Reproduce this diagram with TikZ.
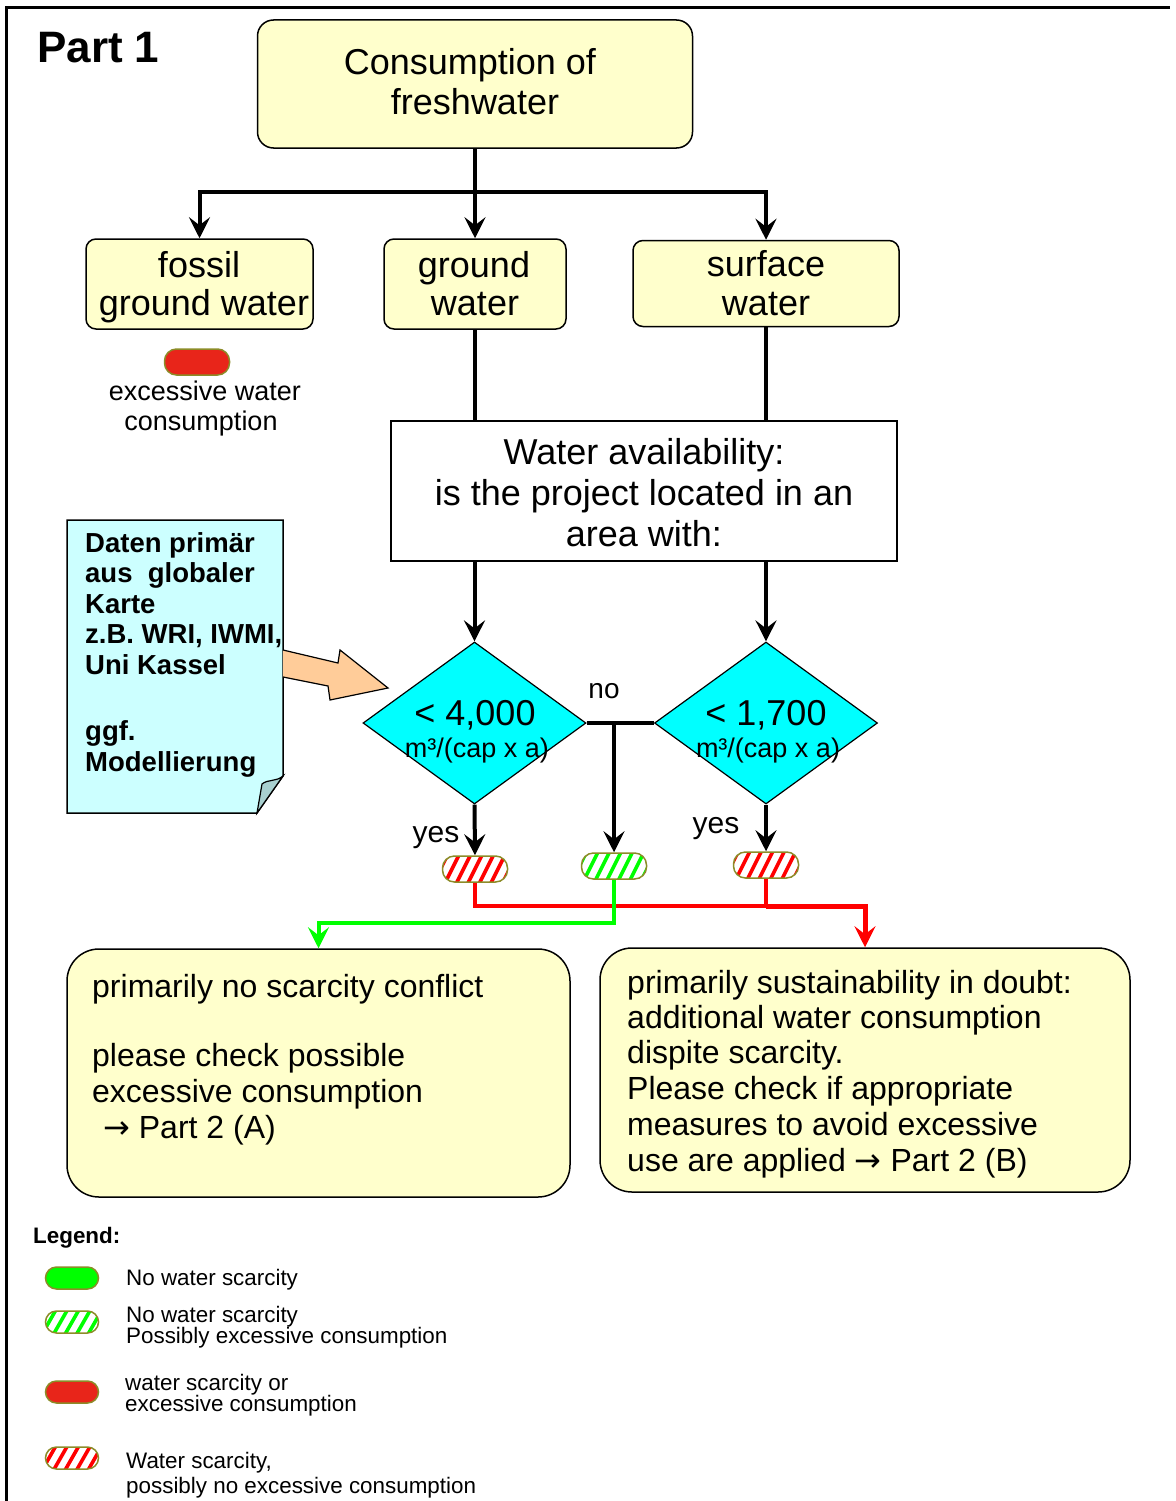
\documentclass[tikz,border=0pt]{standalone}
\usepackage{fontspec}
\setmainfont{Liberation Sans}
\newfontfamily\arrfont{DejaVu Sans}
\usetikzlibrary{shapes.geometric,arrows.meta}
\definecolor{boxyellow}{HTML}{FFFFCC}
\definecolor{docblue}{HTML}{CCFFFF}
\definecolor{peach}{HTML}{FFCC99}
\definecolor{pillred}{HTML}{E8251A}
\definecolor{pillrim}{HTML}{8C8C28}
\definecolor{flapc}{HTML}{A8D0D0}
\definecolor{lgreen}{HTML}{00FF00}
\definecolor{lred}{HTML}{FF0000}
\definecolor{dcyan}{HTML}{00FFFF}
\begin{document}
\begin{tikzpicture}[x=1pt,y=-1pt,
  ybox/.style={draw=black, line width=1.5pt, fill=boxyellow, rounded corners=#1, inner sep=0pt},
  ybox/.default=10pt,
  dia/.style={shape=diamond, draw=black, line width=1.2pt, fill=dcyan, inner sep=0pt, minimum width=223pt, minimum height=162pt},
  pill/.style={draw=pillrim, line width=1.5pt, rounded corners=12pt, inner sep=0pt, minimum width=65pt, minimum height=26pt},
  lpill/.style={draw=pillrim, line width=1.5pt, rounded corners=11pt, inner sep=0pt, minimum width=53pt, minimum height=22pt},
  stripes/.style={fill=white, path picture={\foreach \k in {-7,...,7}{\draw[#1,line width=3.6pt] ([xshift=\k*11.5pt-8pt,yshift=-3pt]path picture bounding box.south) -- ([xshift=\k*11.5pt+8pt,yshift=3pt]path picture bounding box.north);}}},
  conn/.style={line width=4pt},
  arr/.style={line width=4pt, -{Stealth[length=21pt,width=21pt,inset=8pt]}},
  redthin/.style={draw=lred, line width=3.5pt},
  redthick/.style={draw=lred, line width=5pt, -{Stealth[length=21pt,width=21pt,inset=8pt]}},
  greenl/.style={draw=lgreen, line width=4pt, -{Stealth[length=21pt,width=21pt,inset=8pt]}},
  tx/.style={inner sep=0pt, anchor=base},
  txl/.style={inner sep=0pt, anchor=base west},
  f36/.style={font=\fontsize{36}{40}\selectfont},
  f32/.style={font=\fontsize{32}{36}\selectfont},
  f30/.style={font=\fontsize{30}{34}\selectfont},
  f28/.style={font=\fontsize{28}{32}\selectfont},
  f27/.style={font=\fontsize{27}{30}\selectfont},
  f27b/.style={font=\fontsize{27.5}{30}\selectfont\bfseries},
  f22/.style={font=\fontsize{22.4}{24}\selectfont},
  f22b/.style={font=\fontsize{22.4}{24}\selectfont\bfseries},
  f44b/.style={font=\fontsize{44}{48}\selectfont\bfseries}
]
\useasboundingbox (0,0) rectangle (1175,1501);
\fill[white] (0,0) rectangle (1175,1501);
% frame
\draw[line width=3pt] (6,1501) -- (6,8) -- (1170,8);
\node[tx,anchor=base west,f44b] (part) at (37,63) {Part 1};

% boxes
\node[ybox=16pt, minimum width=435pt, minimum height=128pt] (top) at (475,84) {};
\node[tx,f36] (t1) at (470,75) {Consumption of};
\node[tx,f36] (t2) at (475,115) {freshwater};

\node[ybox=10pt, minimum width=227pt, minimum height=90pt] (fossil) at (199.5,284) {};
\node[tx,f36] (fo1) at (199,277) {fossil};
\node[tx,f36] (fo2) at (204,315) {ground water};

\node[ybox=10pt, minimum width=182pt, minimum height=90pt] (ground) at (475,284) {};
\node[tx,f36] (gr1) at (474,277) {ground};
\node[tx,f36] (gr2) at (475,315) {water};

\node[ybox=10pt, minimum width=266pt, minimum height=86pt] (surface) at (766,283.5) {};
\node[tx,f36] (su1) at (766,276) {surface};
\node[tx,f36] (su2) at (766,315) {water};

\node[pill, fill=pillred] (fred) at (197,362) {};
\node[tx,f27] (ex1) at (205,400) {excessive water};
\node[tx,f27] (ex2) at (201,430) {consumption};

\node[draw=black, line width=1.5pt, fill=white, inner sep=0pt, minimum width=506pt, minimum height=140pt] (wa) at (644,491) {};
\node[tx,f36] (wa1) at (644,464) {Water availability:};
\node[tx,f36] (wa2) at (644,505) {is the project located in an};
\node[tx,f36] (wa3) at (644,546) {area with:};

% document
\draw[fill=docblue, line width=1.5pt] (67,520) -- (283,520) -- (283,776) -- (257,813) -- (67,813) -- cycle;
\draw[fill=flapc, line width=1.2pt] (283,776) .. controls (276,782) and (268,779) .. (262,784) -- (257,813) -- cycle;
\node[txl,f27b] (d1t) at (85,552) {Daten primär};
\node[txl,f27b] (d2t) at (85,582.5) {aus\ \ globaler};
\node[txl,f27b] (d3t) at (85,613) {Karte};
\node[txl,f27b] (d4t) at (85,643.5) {z.B. WRI, IWMI,};
\node[txl,f27b] (d5t) at (85,674) {Uni Kassel};
\node[txl,f27b] (d6t) at (85,740) {ggf.};
\node[txl,f27b] (d7t) at (85,771) {Modellierung};
% block arrow
\fill[peach] (283,650) -- (338,663) -- (340,650) -- (388,688) -- (330,700) -- (328,686) -- (283,677) -- cycle;
\draw[line width=1.2pt, line join=miter] (283,650) -- (338,663) -- (340,650) -- (388,688) -- (330,700) -- (328,686) -- (283,677);

% diamonds
\node[dia] (d1) at (474.5,723) {};
\node[dia] (d2) at (766,723) {};
\node[tx,f36] (d1a) at (475,725) {< 4,000};
\node[tx,f27] (d1b) at (477,757) {m³/(cap x a)};
\node[tx,f36] (d2a) at (766,725) {< 1,700};
\node[tx,f27] (d2b) at (768,757) {m³/(cap x a)};
\node[tx,f28] (no) at (604,698) {no};
\node[tx,f30] (yes1) at (436,842) {yes};
\node[tx,f30] (yes2) at (716,833) {yes};

% pills
\node[pill, stripes=lred] (pr1) at (475,869) {};
\node[pill, stripes=lgreen] (pg) at (614,866) {};
\node[pill, stripes=lred] (pr2) at (766,865) {};

% result boxes
\node[ybox=32pt, minimum width=503pt, minimum height=248pt] (lbox) at (318.5,1073) {};
\node[ybox=32pt, minimum width=530pt, minimum height=244pt] (rbox) at (865,1070) {};
\node[txl,f32] (l1) at (92,997) {primarily no scarcity conflict};
\node[txl,f32] (l2) at (92,1066) {please check possible};
\node[txl,f32] (l3) at (92,1102) {excessive consumption};
\node[txl,f32] (l4) at (103,1138) {{\arrfont →} Part 2 (A)};
\node[txl,f32] (r1) at (627,993) {primarily sustainability in doubt:};
\node[txl,f32] (r2) at (627,1028) {additional water consumption};
\node[txl,f32] (r3) at (627,1063) {dispite scarcity.};
\node[txl,f32] (r4) at (627,1099) {Please check if appropriate};
\node[txl,f32] (r5) at (627,1135) {measures to avoid excessive};
\node[txl,f32] (r6) at (627,1171) {use are applied {\arrfont →} Part 2 (B)};

% connectors
\coordinate (J) at (475,192);
\draw[conn] (top.south) -- (J);
\draw[arr] (J) -| (fossil.north);
\draw[arr] (J) -- (ground.north);
\draw[arr] (J) -| (surface.north);
\draw[conn] (ground.south) -- (ground.south |- wa.north);
\draw[conn] (surface.south) -- (surface.south |- wa.north);
\draw[arr] (wa.south -| d1.north) -- (d1.north);
\draw[arr] (wa.south -| d2.north) -- (d2.north);
\draw[conn] (d1.east) -- (d2.west);
\coordinate (N) at (614,723);
\draw[arr] (N) -- (pg.north);
\draw[arr] (d1.south) -- (pr1.north);
\draw[arr] (d2.south) -- (pr2.north);
\coordinate (RJ) at (766,906);
\draw[redthin] (pr1.south) |- (RJ);
\draw[redthin] (pr2.south) -- (RJ);
\draw[redthick] (RJ) -| (rbox.north);
\coordinate (GT) at (318.5,923);
\draw[greenl] (pg.south) |- (GT) -- (lbox.north);

% legend
\node[txl,f22b] (leg) at (33,1243) {Legend:};
\node[lpill, fill=lgreen] (lp1) at (72,1278) {};
\node[lpill, stripes=lgreen] (lp2) at (72,1322) {};
\node[lpill, fill=pillred] (lp3) at (72,1392) {};
\node[lpill, stripes=lred] (lp4) at (72,1458) {};
\node[txl,f22] (lg1) at (126,1285) {No water scarcity};
\node[txl,f22] (lg2) at (126,1322) {No water scarcity};
\node[txl,f22] (lg3) at (126,1343) {Possibly excessive consumption};
\node[txl,f22] (lg4) at (125,1390) {water scarcity or};
\node[txl,f22] (lg5) at (125,1411) {excessive consumption};
\node[txl,f22] (lg6) at (126,1468) {Water scarcity,};
\node[txl,f22] (lg7) at (126,1493) {possibly no excessive consumption};
\end{tikzpicture}
\end{document}
